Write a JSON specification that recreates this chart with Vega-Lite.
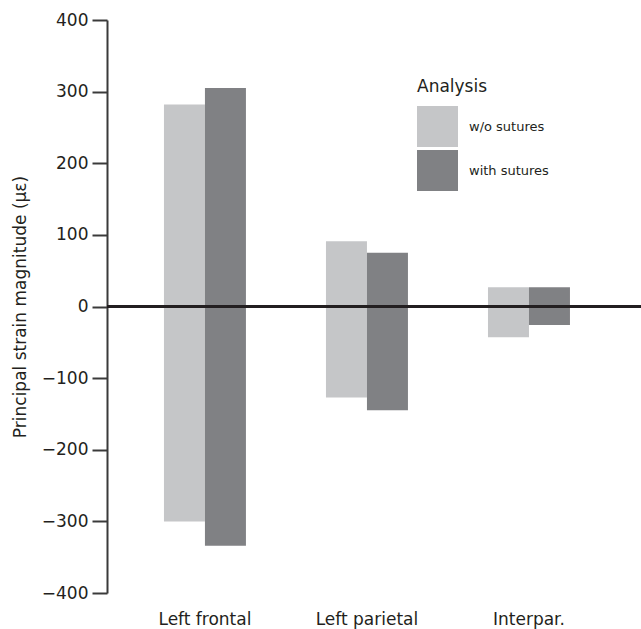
{
  "$schema": "https://vega.github.io/schema/vega-lite/v6.json",
  "width": 534,
  "height": 573,
  "autosize": {"type": "none"},
  "padding": {"left": 107, "top": 20, "right": 0, "bottom": 36},
  "config": {"view": {"stroke": null}, "font": "DejaVu Sans"},
  "data": {
    "values": [
      {"region": "Left frontal", "analysis": "w/o sutures", "low": -300, "high": 282},
      {"region": "Left frontal", "analysis": "with sutures", "low": -334, "high": 305},
      {"region": "Left parietal", "analysis": "w/o sutures", "low": -127, "high": 91},
      {"region": "Left parietal", "analysis": "with sutures", "low": -145, "high": 75},
      {"region": "Interpar.", "analysis": "w/o sutures", "low": -43, "high": 27},
      {"region": "Interpar.", "analysis": "with sutures", "low": -26, "high": 27}
    ]
  },
  "layer": [
    {
      "mark": {"type": "bar"},
      "encoding": {
        "x": {
          "field": "region",
          "type": "nominal",
          "sort": ["Left frontal", "Left parietal", "Interpar."],
          "scale": {"paddingInner": 0.494, "paddingOuter": 0.395, "align": 0.445},
          "axis": {
            "title": null,
            "labelAngle": 0,
            "ticks": false,
            "domain": false,
            "labelFontSize": 17,
            "labelColor": "#231f20",
            "labelPadding": 18
          }
        },
        "xOffset": {
          "field": "analysis",
          "sort": ["w/o sutures", "with sutures"],
          "scale": {"paddingInner": 0, "paddingOuter": 0}
        },
        "y": {
          "field": "low",
          "type": "quantitative",
          "scale": {"domain": [-400, 400], "nice": false, "zero": false},
          "axis": {
            "values": [-400, -300, -200, -100, 0, 100, 200, 300, 400],
            "grid": false,
            "tickSize": 15,
            "tickWidth": 2,
            "tickColor": "#3a3a3a",
            "domainColor": "#3a3a3a",
            "domainWidth": 2,
            "labelFontSize": 17,
            "labelColor": "#231f20",
            "labelPadding": 4,
            "title": "Principal strain magnitude (με)",
            "titleFontSize": 17,
            "titleFontWeight": "normal",
            "titleColor": "#231f20",
            "titlePadding": 12
          }
        },
        "y2": {"field": "high"},
        "color": {
          "field": "analysis",
          "type": "nominal",
          "scale": {"domain": ["w/o sutures", "with sutures"], "range": ["#c5c6c8", "#808184"]},
          "legend": {
            "title": "Analysis",
            "orient": "none",
            "legendX": 310,
            "legendY": 59,
            "titleFontSize": 17,
            "titleFontWeight": "normal",
            "titleColor": "#231f20",
            "titlePadding": 10,
            "symbolType": "square",
            "symbolSize": 1681,
            "symbolStrokeWidth": 0,
            "symbolOpacity": 1,
            "labelFontSize": 13,
            "labelColor": "#231f20",
            "labelOffset": 11,
            "rowPadding": 3
          }
        }
      }
    },
    {
      "mark": {"type": "rule", "color": "#231f20", "strokeWidth": 2.5},
      "encoding": {"y": {"datum": 0}}
    }
  ]
}
